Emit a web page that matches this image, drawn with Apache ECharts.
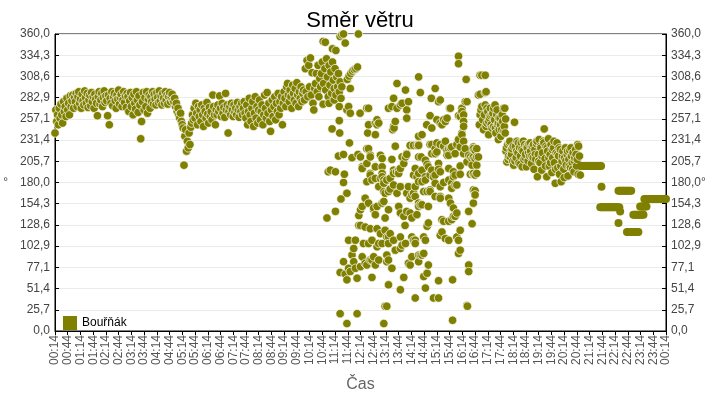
<!DOCTYPE html>
<html><head><meta charset="utf-8">
<script src="https://cdn.jsdelivr.net/npm/echarts@6/dist/echarts.min.js"></script>
<style>html,body{margin:0;padding:0;background:#fff}#c{width:720px;height:400px}</style>
</head><body><div id="c"></div>
<script>
// time values are minutes since 00:00 of the day (1454 = 00:14 next day)
const startMinute = 14;          // first tick 00:14
const tickMinutes = 30;
const ySteps = 14;               // 0..360 in 14 steps
const seriesName = 'Bouřňák';

const nightBand = [
[14,240],[16,268],[18,254],[20,262],[22,250],
[24,270],[26,258],[28,275],[30,262],[32,252],[34,278],[36,266],[38,272],[40,260],
[42,282],[44,268],[46,276],[48,262],[50,285],[52,272],[54,279],[56,286],[58,270],[60,283],
[62,278],[64,288],[66,272],[68,284],[70,290],[72,276],[74,281],[76,270],[78,287],[80,279],[82,274],[84,291],[86,283],[88,276],[90,288],[92,271],[94,280],[96,286],[98,273],[100,289],[102,278],[104,284],[106,270],[108,287],[110,281],[112,276],
[114,261],
[116,284],[118,290],[120,275],[122,280],[124,288],[126,272],[128,283],[130,291],[132,277],[134,285],[136,279],
[138,261],[140,286],[142,250],
[144,282],[146,276],[148,290],[150,273],[152,284],[154,288],[156,279],[158,270],[160,286],[162,281],[164,292],[166,275],[168,283],[170,287],[172,272],[174,280],[176,290],[178,277],[180,285],[182,271],[184,288],
[186,284],[188,266],[190,279],[192,289],[194,272],[196,283],[198,262],[200,287],[202,276],[204,269],[206,290],[208,280],[210,265],[212,285],[214,274],
[216,233],[218,254],
[220,278],[222,289],[224,268],[226,283],[228,272],[230,290],[232,264],[234,281],[236,286],[238,270],
[240,284],[242,278],[244,290],[246,275],[248,287],[250,281],[252,274],[254,289],[256,283],[258,277],[260,291],[262,279],[264,285],[266,274],[268,288],[270,282],[272,276],[274,290],[276,280],[278,286],[280,275],[282,284],[284,289],[286,278],[288,283],[290,287],[292,280]
];

const morningBand = [
[294,278],[296,282],[298,272],[300,276],[302,266],[304,270],[306,262],[308,258],[310,264],[312,254],[314,250],[316,246],
[318,201],
[320,236],[322,244],[324,218],[326,230],[328,222],[330,240],[332,226],[334,247],
[336,252],[338,262],[340,256],[342,270],[344,258],[346,276],[348,264],[350,250],[352,272],[354,260],[356,268],[358,254],[360,274],[362,262],[364,248],[366,270],[368,266],[370,258],[372,277],[374,263],[376,252],[378,271],[380,260],
[382,266],[384,256],[386,286],[388,272],[390,262],[392,250],
[394,268],[396,262],[398,274],[400,266],[402,285],[404,270],[406,260],[408,276],[410,264],[412,271],[414,259],[416,288],[418,268],[420,274],[422,240],[424,266],[426,272],[428,262],[430,276],[432,268],[434,260],[436,274],[438,265],[440,270],[442,262],[444,277],[446,268],[448,259],[450,272],[452,266],[454,276],[456,262],[458,270],[460,278],[462,264],
[464,258],[466,274],[468,250],[470,266],[472,282],[474,262],[476,254],[478,270],[480,278],[482,248],[484,264],[486,284],[488,258],[490,272],[492,252],[494,268],[496,280],[498,256],[500,266],[502,274],[504,250],[506,262],[508,286],[510,270],[512,258],[514,289],[516,264],[518,276],[520,254],[522,242],[524,268],[526,280],[528,260],[530,272],[532,284],[534,256],[536,276],[538,266],[540,288],[542,262],[544,278],[546,270],[548,284],[550,250],
[552,276],[554,290],[556,282],[558,272],[560,296],[562,300],[564,286],[566,278],[568,292],[570,284],[572,270],[574,298],[576,288],[578,280],[580,294],[582,276],[584,301],[586,286],[588,272],[590,290],[592,282],[594,296],[596,278],[598,288],[600,292],[602,280],
[604,318],[606,290],[608,328],[610,284],[612,322],[614,296],[616,331],[618,286],[620,313],[622,276],[624,268],[626,294],
[628,300],[630,312],[632,290],[634,322],[636,284],[638,306],[640,296]
];

const stormScatter = [
[642,312],[644,326],[646,351],[646,275],[647,300],[650,318],[651,350],[652,292],[654,330],[655,137],[656,308],[658,284],[658,193],[660,322],[660,276],[662,298],[663,195],[664,314],[666,288],[667,245],[668,342],[668,326],[670,304],[672,294],[672,280],[674,318],[675,193],[675,145],[676,340],[676,286],[678,308],[680,296],[682,312],[682,212],[684,290],[684,255],[684,272],[685,240],[686,357],[686,302],[686,71],[686,21],[688,282],[688,160],[690,359],[690,296],[694,360],[694,214],[694,180],[694,84],[696,190],[698,349],[698,69],[702,268],[702,167],[702,62],[702,9],[703,305],[706,272],[706,110],[706,76],[707,309],[708,228],[710,294],[710,264],[710,72],[711,312],[714,210],[714,92],[715,315],[718,100],[718,84],[719,317],[722,110],[722,76],[723,318],[726,64],[726,21],[727,320],[728,214],[729,360],[730,140],[730,128],
[733,264],[734,211],[734,147],[734,128],[734,78],[738,199],[738,197],[738,151],[738,90],[741,106],[745,161],[745,126],[745,82],[749,270],[749,221],[749,203],[749,181],[749,80],[751,240],[753,270],[753,250],[753,221],[753,155],[753,106],[757,213],[757,211],[757,191],[757,189],[757,124],[757,86],[761,183],[761,110],[761,86],[761,65],[765,147],[765,149],[765,90],[769,252],[769,238],[769,199],[769,185],[769,141],[769,80],[773,256],[773,250],[773,151],[773,124],[773,102],[777,252],[777,175],[777,106],[777,86],[781,213],[781,185],[781,118],[785,209],[785,199],[785,191],[785,187],[785,155],[785,106],[789,183],[789,179],[789,169],[789,157],[789,9],[792,167],[792,137],[792,122],[792,30],[796,183],[796,114],[796,92],[796,84],[796,30],[800,270],[800,169],[800,147],[800,114],[800,106],[800,86],[800,56],[804,185],[804,172],[804,118],[808,272],[808,208],[808,76],[810,244],[812,282],[812,248],[812,195],[812,191],[812,177],[812,110],[813,246],[816,254],[816,224],[816,98],[819,193],[820,300],[820,270],[820,167],[824,195],[824,191],[824,151],[828,274],[828,197],[828,175],[828,143],[828,114],[828,100],[828,50],[832,276],[832,211],[832,104],[836,203],[836,139],[836,65],[839,128],[840,292],[840,211],[840,106],[843,268],[843,258],[843,215],[843,214],[843,167],[843,145],[847,278],[847,175],[847,82],[851,225],[851,161],[851,143],[851,80],[855,165],[855,137],[855,114],[855,90],[859,225],[859,189],[859,167],[859,110],[863,175],[863,163],[863,197],[863,110],[863,106],[863,40],[867,225],[867,187],[867,141],[871,308],[871,236],[871,226],[871,225],[871,211],[871,191],[871,181],[871,155],[871,151],[871,92],[871,84],[875,289],[875,153],[875,92],[877,211],[879,238],[879,195],[879,181],[879,153],[879,92],[883,169],[883,114],[883,94],[883,66],[887,207],[887,187],[887,183],[887,110],[887,52],[890,250],[891,202],[891,169],[891,127],[891,70],[894,199],[894,151],[894,131],[894,80],[898,261],[898,226],[898,189],[898,171],[898,169],[901,282],[902,246],[902,226],[902,215],[902,195],[906,187],[906,40],[910,294],[910,221],[910,215],[910,189],[910,179],[910,163],[914,256],[914,228],[914,217],[918,278],[918,203],[918,196],[918,61],[918,40],[922,280],[922,252],[922,226],[922,193],[922,175],[922,163],[922,161],[922,116],[926,250],[926,135],[926,120],[930,256],[930,224],[930,180],[930,133],[934,254],[934,230],[934,112],[938,258],[938,219],[938,213],[942,221],[942,213],[942,197],[942,183],[942,161],[942,133],[942,110],[944,270],[946,270],[946,222],[946,155],[949,223],[949,179],[949,173],[949,135],[951,62],[951,13],[953,193],[953,187],[953,149],[953,139],[957,215],[957,189],[957,177],[957,139],[961,226],[961,177],[961,143],[961,114],[965,333],[965,324],[965,261],[965,232],[965,110],[965,94],[969,260],[969,223],[969,200],[969,190],[969,122],[969,98],[973,270],[973,266],[973,240],[973,238],[977,262],[977,254],[977,248],[977,230],[977,215],[981,278],[981,221],[983,305],[985,278],[985,205],[985,31],[986,30],[989,213],[989,145],[989,80],[989,72],[993,211],[993,190],[997,209],[997,201],[997,130],[1000,223],[1000,221],[1000,211],[1000,190],[1000,191],[1000,171],[1000,155],[1004,219],[1004,209],[1004,189],[1004,170],[1004,165],[1008,221],[1008,211],[1008,201],[1008,191],[1012,211],[1012,286]
];

const afternoonCluster = [
[1014,250],[1016,262],[1016,287],[1016,310],[1018,268],[1020,310],[1020,272],[1022,256],[1024,244],[1026,262],[1028,274],[1028,289],[1028,310],[1030,248],[1030,290],[1032,252],[1032,270],[1034,266],[1036,238],[1036,254],[1038,258],[1040,270],[1040,261],[1042,250],[1044,246],[1044,262],[1046,264],[1048,248],[1048,270],[1050,256],[1051,274],[1052,246],[1053,240],[1055,262],[1056,268],[1057,250],[1059,252],[1059,232],[1060,258],[1061,244],[1063,258],[1064,250],[1065,236],[1067,244],[1068,262],[1069,254],[1071,270],[1072,242],[1073,248],[1074,270],[1076,257]
];

const eveningBand = [
[1075,240],[1077,218],[1078,222],[1079,205],[1081,226],[1082,208],[1083,212],[1085,228],[1086,230],[1087,211],[1089,220],[1090,214],[1091,221],[1093,206],[1094,224],[1095,201],[1097,253],[1098,206],[1099,224],[1101,210],[1102,218],[1103,230],[1105,216],[1106,228],[1107,204],[1109,222],[1110,202],[1111,212],[1113,228],[1114,220],[1115,199],[1117,218],[1118,230],[1119,208],[1121,226],[1122,210],[1123,214],[1125,199],[1126,224],[1127,222],[1129,206],[1130,216],[1131,227],[1133,212],[1134,228],[1135,218],[1137,203],[1138,212],[1139,224],[1141,210],[1142,226],[1143,196],[1145,220],[1146,214],[1147,208],[1149,227],[1150,230],[1151,187],[1153,214],[1154,206],[1155,232],[1157,204],[1158,224],[1159,222],[1161,195],[1162,212],[1163,216],[1165,230],[1166,228],[1167,245],[1169,209],[1170,200],[1171,224],[1173,187],[1174,222],[1175,218],[1177,233],[1178,210],[1179,200],[1181,214],[1182,204],[1183,226],[1185,192],[1186,220],[1187,210],[1189,222],[1190,230],[1191,204],[1193,179],[1194,196],[1195,216],[1197,228],[1198,214],[1199,198],[1201,212],[1202,222],[1203,190],[1205,220],[1206,200],[1207,181],[1209,206],[1210,212],[1211,218],[1213,196],[1214,186],[1215,210],[1217,222],[1218,206],[1219,201],[1221,214],[1222,218],[1223,188],[1225,208],[1226,200],[1227,219],[1229,198],[1230,222],[1231,212],[1233,204],[1234,196],[1235,216],[1237,193],[1238,206],[1239,210],[1241,220],[1242,214],[1243,200],[1245,208],[1246,226],[1247,190],[1248,224],[1250,212],[1252,189]
];

const lateSteps = [
[1253,200],[1256,200],[1259,200],[1262,200],[1265,200],[1268,200],[1271,200],[1274,200],[1277,200],[1280,200],[1283,200],[1286,200],[1289,200],[1292,200],[1295,200],[1298,200],[1301,200],
[1302,175],
[1299,150],[1302,150],[1305,150],[1308,150],[1311,150],[1314,150],[1317,150],[1320,150],[1323,150],[1326,150],[1329,150],[1332,150],[1335,150],[1338,150],[1341,150],[1344,150],
[1346,145],[1342,131],
[1342,170],[1345,170],[1348,170],[1351,170],[1354,170],[1357,170],[1360,170],[1363,170],[1366,170],[1369,170],[1372,170],
[1362,120],[1365,120],[1368,120],[1371,120],[1374,120],[1377,120],[1380,120],[1383,120],[1386,120],[1389,120],
[1377,141],[1380,141],[1383,141],[1386,141],[1389,141],[1392,141],[1395,141],[1398,141],[1401,141],
[1393,151],[1396,151],[1399,151],[1402,151],[1405,151],[1408,151],
[1403,160],[1406,160],[1409,160],[1412,160],[1415,160],[1418,160],[1421,160],[1424,160],[1427,160],[1430,160],[1433,160],[1436,160],[1439,160],[1442,160],[1445,160],[1448,160],[1451,160],[1454,160]
];

const toAxis = arr => arr.map(p => [p[0] - startMinute, p[1]]);
const scatterPoints = toAxis([].concat(nightBand, morningBand, stormScatter, afternoonCluster, eveningBand));
const stepPoints = toAxis(lateSteps);

function fmtTime(v) {
  const m = Math.round(v + startMinute) % 1440;
  const h = Math.floor(m / 60), mm = m % 60;
  return (h < 10 ? '0' : '') + h + ':' + (mm < 10 ? '0' : '') + mm;
}
function fmtDeg(v) { return (Math.round(v * 10) / 10).toFixed(1).replace('.', ','); }

const font = 'Liberation Sans, Arial, sans-serif';
const olive = '#808000';
const yCommon = {
  type: 'value', min: 0, max: 360, interval: 360 / ySteps,
  name: '°', nameLocation: 'middle', nameRotate: 0,
  nameTextStyle: { fontFamily: font, fontSize: 12, color: '#444' },
  axisLine: { show: true, lineStyle: { color: '#000' } },
  axisTick: { show: true, inside: true, length: 4, lineStyle: { color: '#000' } },
  axisLabel: { fontFamily: font, fontSize: 12, color: '#444', margin: 5, formatter: fmtDeg }
};

const chart = echarts.init(document.getElementById('c'), null, { renderer: 'canvas' });
chart.setOption({
  animation: false,
  title: { text: 'Směr větru', left: 'center', top: 5,
    textStyle: { fontFamily: font, fontSize: 22, fontWeight: 'normal', color: '#000' } },
  legend: { left: 58, top: 311, itemWidth: 14, itemHeight: 14, icon: 'rect', itemGap: 5,
    selectedMode: false, data: [seriesName], itemStyle: { borderWidth: 0 },
    textStyle: { fontFamily: font, fontSize: 12, color: '#000' } },
  grid: { left: 55, right: 54, top: 34, bottom: 69, show: true, borderColor: '#000', borderWidth: 1 },
  xAxis: {
    type: 'value', min: 0, max: 1440, interval: tickMinutes,
    name: 'Čas', nameLocation: 'middle', nameGap: 46,
    nameTextStyle: { fontFamily: font, fontSize: 16, color: '#666' },
    axisLine: { show: true, lineStyle: { color: '#000' } },
    axisTick: { show: true, length: 4, lineStyle: { color: '#000' } },
    axisLabel: { rotate: 90, fontFamily: font, fontSize: 12, color: '#555', margin: 4, formatter: fmtTime },
    splitLine: { show: false }
  },
  yAxis: [
    Object.assign({}, yCommon, { position: 'left', nameGap: 47,
      splitLine: { show: true, lineStyle: { color: '#ebebeb' } } }),
    Object.assign({}, yCommon, { position: 'right', nameGap: 35, nameMoveOverlap: false, splitLine: { show: false } })
  ],
  series: [{
    type: 'scatter', name: seriesName, yAxisIndex: 0, data: scatterPoints,
    symbol: 'circle', symbolSize: 8.5,
    itemStyle: { color: olive, borderColor: '#ffffff', borderWidth: 0.7, opacity: 1 }
  }, {
    type: 'scatter', name: seriesName, yAxisIndex: 0, data: stepPoints,
    symbol: 'circle', symbolSize: 8,
    itemStyle: { color: olive, borderWidth: 0, opacity: 1 }
  }]
});
</script>
</body></html>
